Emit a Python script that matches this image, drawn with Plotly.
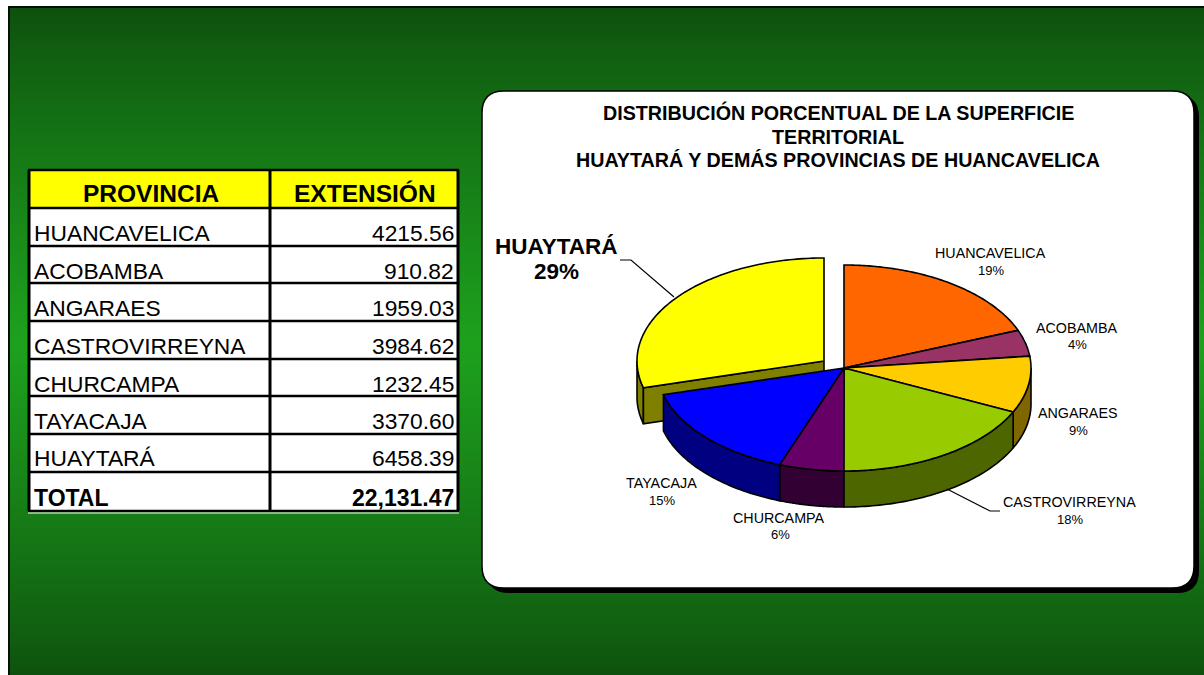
import numpy as np
import plotly.graph_objects as go

# ---------- data ----------
PROVINCES = ["HUANCAVELICA", "ACOBAMBA", "ANGARAES", "CASTROVIRREYNA", "CHURCAMPA", "TAYACAJA", "HUAYTARÁ"]
EXTENSION = [4215.56, 910.82, 1959.03, 3984.62, 1232.45, 3370.60, 6458.39]
EXT_TEXT = ["4215.56", "910.82", "1959.03", "3984.62", "1232.45", "3370.60", "6458.39"]
TOTAL_TEXT = "22,131.47"
HEADERS = ["PROVINCIA", "EXTENSIÓN"]
TITLE_LINES = ["DISTRIBUCIÓN PORCENTUAL DE LA SUPERFICIE", "TERRITORIAL",
               "HUAYTARÁ Y DEMÁS PROVINCIAS DE HUANCAVELICA"]

# ---------- style ----------
TOP_COLORS = ["#ff6600", "#993366", "#ffcc00", "#99cc00", "#660066", "#0000ff", "#ffff00"]
SIDE_COLORS = ["#803300", "#4d1a33", "#806600", "#4d6600", "#330033", "#000080", "#808000"]
FONT = "Liberation Sans"
CX, CY, RX, RY, DEPTH = 844, 368, 187, 103, 36
EXPLODE = [(0, 0), (0, 0), (0, 0), (0, 0), (0, 0), (0, 0), (-20, -7)]
LABEL_XY = [(990, 253, 270), (1076, 328, 344), (1077, 413, 430), (1069, 502, 519),
            (779, 518, 534), (661, 483, 500)]
ROW_LINES = [170, 208, 246, 283, 321, 359, 396, 434, 472, 511]
ROW_TEXT_Y = [233, 271, 308, 346, 384, 421, 458]

fig = go.Figure()
shapes = []
annots = []


def note(x, y, text, size, bold=False, anchor="center"):
    annots.append(dict(x=x, y=y, xref="x", yref="y", text=f"<b>{text}</b>" if bold else text,
                       showarrow=False, xanchor=anchor, yanchor="middle",
                       font=dict(family=FONT, size=size, color="black"), borderpad=0, borderwidth=0))


# ---------- background ----------
def mix(t):
    a = np.array([14, 80, 14])
    b = np.array([30, 162, 30])
    c = a + (b - a) * t
    return f"rgb({int(c[0])},{int(c[1])},{int(c[2])})"


for y0 in range(7, 675, 3):
    t = max(1 - abs(y0 - 342) / 335, 0) ** 0.85
    shapes.append(dict(type="rect", x0=8, x1=1204, y0=y0, y1=y0 + 3, layer="below",
                       fillcolor=mix(t), line_width=0))
shapes.append(dict(type="path", path="M9,675 L9,7 L1204,7", layer="below",
                   line=dict(color="#021002", width=2)))


# ---------- rounded chart panel ----------
def rounded(x0, y0, x1, y1, r):
    return (f"M{x0 + r},{y0} L{x1 - r},{y0} Q{x1},{y0} {x1},{y0 + r} L{x1},{y1 - r} "
            f"Q{x1},{y1} {x1 - r},{y1} L{x0 + r},{y1} Q{x0},{y1} {x0},{y1 - r} "
            f"L{x0},{y0 + r} Q{x0},{y0} {x0 + r},{y0} Z")


shapes.append(dict(type="path", path=rounded(487, 95, 1199, 593, 22), layer="below",
                   fillcolor="black", line_width=0))
shapes.append(dict(type="path", path=rounded(482, 91, 1194, 588, 22), layer="below",
                   fillcolor="white", line=dict(color="black", width=1.5)))

# ---------- table ----------
TX0, TX1, TX2 = 29, 270, 458
shapes.append(dict(type="rect", x0=TX0, x1=TX2, y0=ROW_LINES[0], y1=ROW_LINES[-1], layer="below",
                   fillcolor="white", line_width=0))
shapes.append(dict(type="rect", x0=TX0, x1=TX2, y0=ROW_LINES[0], y1=ROW_LINES[1], layer="below",
                   fillcolor="#ffff00", line_width=0))
for y in ROW_LINES:
    shapes.append(dict(type="line", x0=TX0 - 1, x1=TX2 + 1, y0=y, y1=y, layer="below",
                       line=dict(color="black", width=2.5)))
for x in (TX0, TX1, TX2):
    shapes.append(dict(type="line", x0=x, x1=x, y0=ROW_LINES[0], y1=ROW_LINES[-1], layer="below",
                       line=dict(color="black", width=3)))
shapes.append(dict(type="line", x0=TX0 - 1, x1=TX2 + 1, y0=ROW_LINES[-1] + 2, y1=ROW_LINES[-1] + 2,
                   layer="below", line=dict(color="white", width=1)))
note((TX0 + TX1) / 2 + 1, 193, HEADERS[0], 24.5, True)
note((TX1 + TX2) / 2 + 1, 193, HEADERS[1], 24.5, True)
for name, val, y in zip(PROVINCES, EXT_TEXT, ROW_TEXT_Y):
    note(34, y, name, 22.8, anchor="left")
    note(454, y, val, 22.8, anchor="right")
note(34, 498, "TOTAL", 23, True, "left")
note(454, 498, TOTAL_TEXT, 23, True, "right")

# ---------- pie ----------
vals = np.array(EXTENSION)
fracs = vals / vals.sum()
edges = np.concatenate([[0], np.cumsum(fracs)]) * 2 * np.pi


def pt(th, dx=0, dy=0):
    return CX + dx + RX * np.sin(th), CY + dy - RY * np.cos(th)


def poly(xs, ys, color, name):
    fig.add_trace(go.Scatter(x=list(xs) + [xs[0]], y=list(ys) + [ys[0]], mode="lines", fill="toself",
                             fillcolor=color, line=dict(color="black", width=1.6, simplify=False),
                             name=name, showlegend=False, hoverinfo="name"))


def wall(i):
    a, b = max(edges[i], np.pi / 2), min(edges[i + 1], 3 * np.pi / 2)
    if a >= b:
        return
    th = np.linspace(a, b, 60)
    x, y = pt(th, *EXPLODE[i])
    poly(np.r_[x, x[::-1]], np.r_[y, y[::-1] + DEPTH], SIDE_COLORS[i], PROVINCES[i])


def top(i):
    th = np.linspace(edges[i], edges[i + 1], 100)
    x, y = pt(th, *EXPLODE[i])
    dx, dy = EXPLODE[i]
    poly(np.r_[CX + dx, x], np.r_[CY + dy, y], TOP_COLORS[i], PROVINCES[i])


# exploded slice first (it lies behind), with its visible cut face
i = len(vals) - 1
wall(i)
dx, dy = EXPLODE[i]
ex, ey = pt(edges[i], dx, dy)
poly([CX + dx, ex, ex, CX + dx], [CY + dy, ey, ey + DEPTH, CY + dy + DEPTH], SIDE_COLORS[i], PROVINCES[i])
top(i)
for k in range(len(vals) - 1):
    wall(k)
for k in range(len(vals) - 1):
    top(k)

# leader lines
fig.add_trace(go.Scatter(x=[620, 631, 674], y=[260, 260, 297], mode="lines",
                         line=dict(color="black", width=1.2), showlegend=False, hoverinfo="skip"))
fig.add_trace(go.Scatter(x=[947, 990, 1000], y=[489, 511, 511], mode="lines",
                         line=dict(color="black", width=1.2), showlegend=False, hoverinfo="skip"))

# pie labels
pcts = [f"{round(f * 100)}%" for f in fracs]
for name, pct, (x, y1, y2) in zip(PROVINCES, pcts, LABEL_XY):
    note(x, y1, name, 14.3)
    note(x + 1, y2, pct, 13)
note(556, 246, PROVINCES[-1], 22.5, True)
note(556, 271, pcts[-1], 22.5, True)

# title
for line, y, in zip(TITLE_LINES, (112.5, 136.5, 160)):
    note(838, y, line, 19.7, True)

fig.update_layout(width=1204, height=675, margin=dict(l=0, r=0, t=0, b=0),
                  paper_bgcolor="white", plot_bgcolor="rgba(0,0,0,0)",
                  shapes=shapes, annotations=annots, showlegend=False,
                  xaxis=dict(range=[0, 1204], visible=False, fixedrange=True),
                  yaxis=dict(range=[675, 0], visible=False, fixedrange=True))
fig.write_html("out.html", config=dict(displayModeBar=False),
               post_script="document.body.style.margin='0';document.body.style.overflow='hidden';")
